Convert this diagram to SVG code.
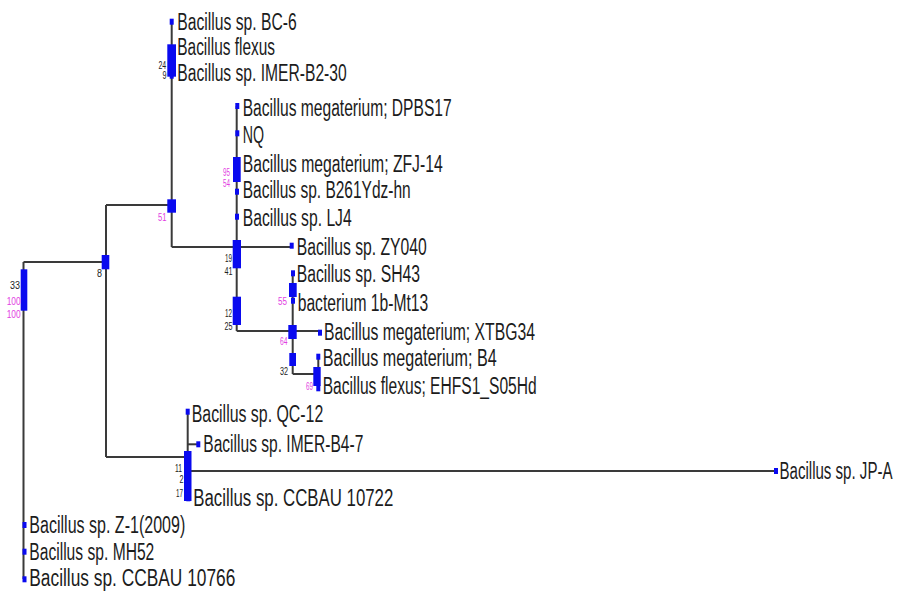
<svg xmlns="http://www.w3.org/2000/svg" width="901" height="591" viewBox="0 0 901 591">
<style>
.bg{fill:#ffffff}
.ln{stroke:#3a3a3a;stroke-width:2;fill:none}
.dot{fill:#0a0aef}
.box{fill:#0a0aef}
.t{font-family:"Liberation Sans",Arial,sans-serif;font-size:23px;fill:#1c1c1c}
.s{font-family:"Liberation Sans",Arial,sans-serif;font-size:10px;fill:#222222}
.m{font-family:"Liberation Sans",Arial,sans-serif;font-size:10px;fill:#e23ee2}
</style>
<rect class="bg" x="0" y="0" width="901" height="591"/>
<g id="connectors">
<path class="ln" d="M23.5,262 V579"/>
<path class="ln" d="M23.5,262 H106"/>
<path class="ln" d="M106,205 V457"/>
<path class="ln" d="M106,205 H171.7"/>
<path class="ln" d="M171.7,21.7 V247"/>
<path class="ln" d="M171.7,247 H291.7"/>
<path class="ln" d="M236.7,106 V331"/>
<path class="ln" d="M236.7,331 H320"/>
<path class="ln" d="M292.7,273 V374"/>
<path class="ln" d="M292.7,374 H318.3"/>
<path class="ln" d="M318.3,356.7 V388.3"/>
<path class="ln" d="M106,457 H187.7"/>
<path class="ln" d="M187.7,411.7 V498"/>
<path class="ln" d="M187.7,444.3 H198.3"/>
<path class="ln" d="M187.7,471 H776"/>
</g>
<g id="node-root">
<rect class="box" x="20.7" y="269.3" width="6.6" height="41.4"/>
<text class="s" x="10" y="289" textLength="10" lengthAdjust="spacingAndGlyphs">33</text>
<text class="m" x="6.7" y="305" textLength="14" lengthAdjust="spacingAndGlyphs">100</text>
<text class="m" x="6.7" y="318" textLength="14" lengthAdjust="spacingAndGlyphs">100</text>
</g>
<g id="node-8">
<rect class="box" x="101.7" y="255" width="7.6" height="14.3"/>
<text class="s" x="97" y="277" textLength="5" lengthAdjust="spacingAndGlyphs">8</text>
</g>
<g id="node-51">
<rect class="box" x="167.3" y="199.3" width="8.7" height="13.4"/>
<text class="m" x="158" y="221" textLength="8.5" lengthAdjust="spacingAndGlyphs">51</text>
</g>
<g id="node-24">
<rect class="box" x="167.3" y="44.3" width="8.7" height="32.4"/>
<text class="s" x="158.5" y="68.5" textLength="7.7" lengthAdjust="spacingAndGlyphs">24</text>
<text class="s" x="162.5" y="78.5" textLength="4" lengthAdjust="spacingAndGlyphs">9</text>
</g>
<g id="node-95">
<rect class="box" x="233" y="157" width="7.7" height="25"/>
<text class="m" x="223" y="176" textLength="7" lengthAdjust="spacingAndGlyphs">95</text>
<text class="m" x="223" y="186.5" textLength="7" lengthAdjust="spacingAndGlyphs">54</text>
</g>
<g id="node-19">
<rect class="box" x="232.7" y="240" width="8.3" height="28.3"/>
<text class="s" x="225" y="262" textLength="7" lengthAdjust="spacingAndGlyphs">19</text>
<text class="s" x="224.5" y="275" textLength="8" lengthAdjust="spacingAndGlyphs">41</text>
</g>
<g id="node-12">
<rect class="box" x="232.7" y="296.7" width="8.3" height="28.3"/>
<text class="s" x="225" y="316.5" textLength="7" lengthAdjust="spacingAndGlyphs">12</text>
<text class="s" x="224.5" y="330" textLength="8" lengthAdjust="spacingAndGlyphs">25</text>
</g>
<g id="node-55">
<rect class="box" x="289" y="283" width="7.7" height="14"/>
<text class="m" x="278" y="305" textLength="9" lengthAdjust="spacingAndGlyphs">55</text>
</g>
<g id="node-64">
<rect class="box" x="288.3" y="325" width="8.4" height="14"/>
<text class="m" x="280" y="345" textLength="7.5" lengthAdjust="spacingAndGlyphs">64</text>
</g>
<g id="node-32">
<rect class="box" x="289.3" y="353" width="6.7" height="13"/>
<text class="s" x="280" y="375" textLength="8" lengthAdjust="spacingAndGlyphs">32</text>
</g>
<g id="node-69">
<rect class="box" x="313.3" y="367" width="7.4" height="19"/>
<text class="m" x="306" y="390" textLength="7" lengthAdjust="spacingAndGlyphs">69</text>
</g>
<g id="node-11">
<rect class="box" x="184" y="451" width="7.5" height="50"/>
<text class="s" x="175" y="472" textLength="7" lengthAdjust="spacingAndGlyphs">11</text>
<text class="s" x="179.5" y="483" textLength="4" lengthAdjust="spacingAndGlyphs">2</text>
<text class="s" x="176" y="497" textLength="7" lengthAdjust="spacingAndGlyphs">17</text>
</g>
<g id="leaf-bc6">
<rect class="dot" x="169.7" y="18.7" width="4" height="6"/>
<text class="t" x="177.3" y="30" textLength="119.4" lengthAdjust="spacingAndGlyphs">Bacillus sp. BC-6</text>
</g>
<g id="leaf-flexus">
<text class="t" x="177.3" y="54.5" textLength="97.7" lengthAdjust="spacingAndGlyphs">Bacillus flexus</text>
</g>
<g id="leaf-imer-b2-30">
<rect class="dot" x="169.7" y="72.7" width="4" height="6"/>
<text class="t" x="177.3" y="81" textLength="169.4" lengthAdjust="spacingAndGlyphs">Bacillus sp. IMER-B2-30</text>
</g>
<g id="leaf-dpbs17">
<rect class="dot" x="235.3" y="103" width="4" height="6"/>
<text class="t" x="242.7" y="116" textLength="209" lengthAdjust="spacingAndGlyphs">Bacillus megaterium; DPBS17</text>
</g>
<g id="leaf-nq">
<rect class="dot" x="235.3" y="130.3" width="4" height="6"/>
<text class="t" x="242.7" y="142.7" textLength="21.3" lengthAdjust="spacingAndGlyphs">NQ</text>
</g>
<g id="leaf-zfj14">
<text class="t" x="242.7" y="171.5" textLength="200" lengthAdjust="spacingAndGlyphs">Bacillus megaterium; ZFJ-14</text>
</g>
<g id="leaf-b261ydz">
<rect class="dot" x="235" y="188.7" width="4" height="6"/>
<text class="t" x="242.7" y="198" textLength="168" lengthAdjust="spacingAndGlyphs">Bacillus sp. B261Ydz-hn</text>
</g>
<g id="leaf-lj4">
<rect class="dot" x="235" y="213.7" width="4" height="6"/>
<text class="t" x="242.7" y="226" textLength="109" lengthAdjust="spacingAndGlyphs">Bacillus sp. LJ4</text>
</g>
<g id="leaf-zy040">
<rect class="dot" x="289.7" y="242.7" width="4" height="6"/>
<text class="t" x="296.7" y="255" textLength="130" lengthAdjust="spacingAndGlyphs">Bacillus sp. ZY040</text>
</g>
<g id="leaf-sh43">
<rect class="dot" x="291" y="270.3" width="4" height="6"/>
<text class="t" x="296.7" y="282" textLength="123.3" lengthAdjust="spacingAndGlyphs">Bacillus sp. SH43</text>
</g>
<g id="leaf-1bmt13">
<rect class="dot" x="291" y="297.7" width="4" height="6"/>
<text class="t" x="297.7" y="311" textLength="130.6" lengthAdjust="spacingAndGlyphs">bacterium 1b-Mt13</text>
</g>
<g id="leaf-xtbg34">
<rect class="dot" x="318" y="329.7" width="4" height="6"/>
<text class="t" x="324" y="340" textLength="211" lengthAdjust="spacingAndGlyphs">Bacillus megaterium; XTBG34</text>
</g>
<g id="leaf-b4">
<rect class="dot" x="316.3" y="353.7" width="4" height="6"/>
<text class="t" x="322.7" y="366" textLength="174" lengthAdjust="spacingAndGlyphs">Bacillus megaterium; B4</text>
</g>
<g id="leaf-ehfs1">
<rect class="dot" x="316.3" y="385.3" width="4" height="6"/>
<text class="t" x="322.7" y="394" textLength="214" lengthAdjust="spacingAndGlyphs">Bacillus flexus; EHFS1_S05Hd</text>
</g>
<g id="leaf-qc12">
<rect class="dot" x="185.7" y="408.7" width="4" height="6"/>
<text class="t" x="191.7" y="422" textLength="131.6" lengthAdjust="spacingAndGlyphs">Bacillus sp. QC-12</text>
</g>
<g id="leaf-imer-b4-7">
<rect class="dot" x="196.3" y="441.3" width="4" height="6"/>
<text class="t" x="203.3" y="452" textLength="160" lengthAdjust="spacingAndGlyphs">Bacillus sp. IMER-B4-7</text>
</g>
<g id="leaf-jpa">
<rect class="dot" x="774" y="468" width="4" height="6"/>
<text class="t" x="779.5" y="478.5" textLength="113" lengthAdjust="spacingAndGlyphs">Bacillus sp. JP-A</text>
</g>
<g id="leaf-ccbau10722">
<rect class="dot" x="186.3" y="495.3" width="4" height="6"/>
<text class="t" x="193.3" y="506" textLength="200" lengthAdjust="spacingAndGlyphs">Bacillus sp. CCBAU 10722</text>
</g>
<g id="leaf-z1">
<rect class="dot" x="22.5" y="522" width="4" height="6"/>
<text class="t" x="29.3" y="533" textLength="156" lengthAdjust="spacingAndGlyphs">Bacillus sp. Z-1(2009)</text>
</g>
<g id="leaf-mh52">
<rect class="dot" x="22.5" y="548.7" width="4" height="6"/>
<text class="t" x="29.3" y="560" textLength="125" lengthAdjust="spacingAndGlyphs">Bacillus sp. MH52</text>
</g>
<g id="leaf-ccbau10766">
<rect class="dot" x="22.5" y="576.3" width="4" height="6"/>
<text class="t" x="29.3" y="586" textLength="206" lengthAdjust="spacingAndGlyphs">Bacillus sp. CCBAU 10766</text>
</g>
</svg>
